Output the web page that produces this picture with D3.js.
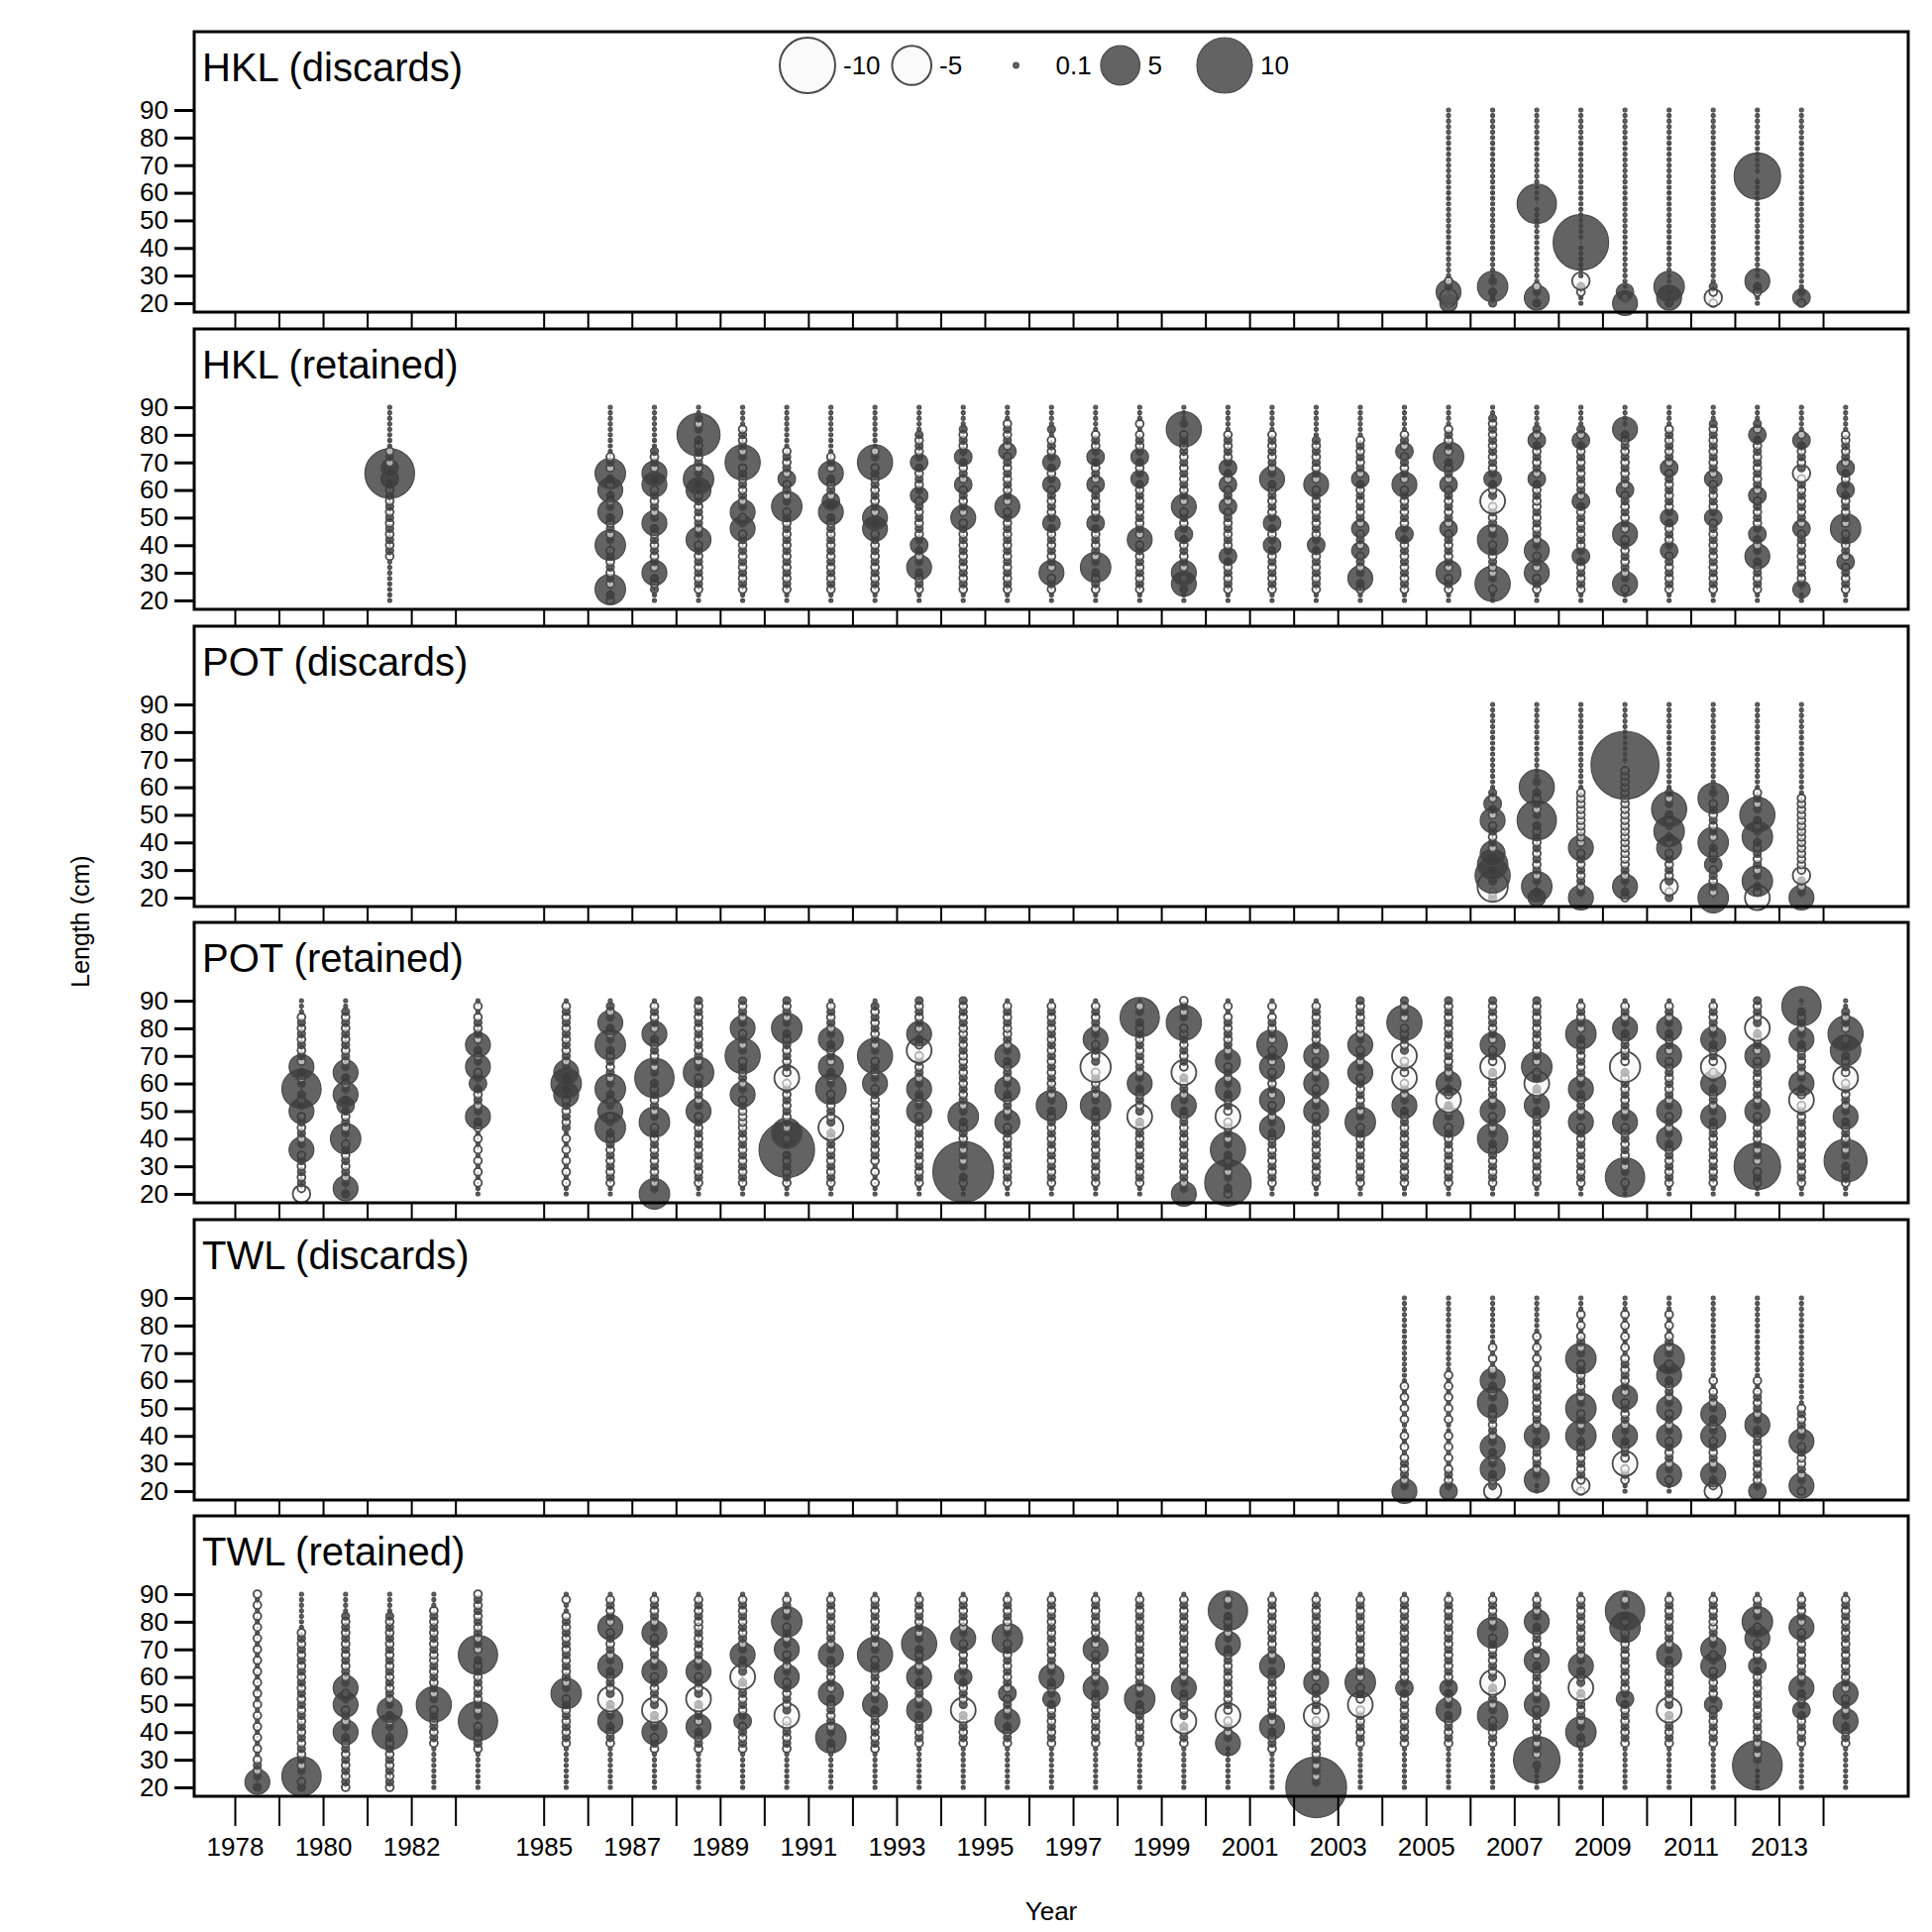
<!DOCTYPE html>
<html><head><meta charset="utf-8">
<script src="https://cdn.jsdelivr.net/npm/d3@7"></script>
<style>body{margin:0;background:#fff}svg{display:block;font-family:"Liberation Sans",Arial,sans-serif}</style>
</head><body><svg id="c" width="1950" height="1950"></svg>
<script>
// Residual codes per length bin (20,22,...,90 cm), grouped 6 bins per '|'.
// '.'=0.05 '+'=0.2 '-'=-0.2 '1'..'9'=+1..+9 'a'..'i'=-1..-9 'A'=10 'B'=12 'C'=15 ' '=none
const panelNames = ["HKL (discards)","HKL (retained)","POT (discards)","POT (retained)","TWL (discards)","TWL (retained)"];
const hklDiscYears = [2005,2006,2007,2008,2009,2010,2011,2012,2013];
const hklDiscRes = [
"1a2+-.|......|......|......|......|......",
"+.+3+.|......|......|......|......|......",
"+2+-..|......|......|5.....|......|......",
"..-+a.|.....A|......|......|......|......",
"2-1...|......|......|......|......|......",
"+2.3..|......|......|......|......|......",
"-a-+..|......|......|......|......|......",
"..-+2.|......|......|.....7|......|......",
"-1+...|......|......|......|......|......"];
const hklRetYears = [1981,1986,1987,1988,1989,1990,1991,1992,1993,1994,1995,1996,1997,1998,1999,2000,2001,2002,2003,2004,2005,2006,2007,2008,2009,2010,2011,2012,2013,2014];
const hklRetRes = [
"......|..-+-+|-+-+-+|-+-+18|1-+-..|......",
"-+3-+-|+-+-3+|-+-+2+|-+2-+3|-+-...|......",
"..+-+2|-+-+-+|-+2+-+|-+-2+2|-+-+..|......",
"..-+-+|-+-+-2|+-+-+-|+-2+3+|-+-+-+|6+-+..",
"..-+-+|-+-+-+|-2+-2+|-+-+-+|-4+-+-|+-....",
"..-+-+|-+-+-+|-+-+-3|+-+-1-|+-+-..|......",
"..-+-+|-+-+-+|-+-+2+|1-+-+2|-+-...|......",
"..-+-+|-+-+-+|-2+2-+|-+-+-+|-4+-..|......",
"..-+-+|2+-+1+|-+-+-+|-1+-+-|+1+-+-|+.....",
"..-+-+|-+-+-+|-+-2-+|-+-1-+|-+1+-+|-+....",
"..-+-+|-+-+-+|-+-+-2|-+-+-+|-+-1-+|-+-...",
"..-+-2|-+-+-+|-+1+-+|-+-1+-|+1+-+-|.+....",
"..-+-+|3+-+-+|-+1+-+|-+-1-+|-+1+-+|-.....",
"..-+-+|-+-+-2|-+-+-+|-+-+1+|-+1+-+|-.-...",
"..+2-2|-+-+-+|1+-+-2|-+-+-+|-+-+-+|-4+...",
"..-+-+|-+1+-+|-+-+-1|-+-1-+|1+-+-+|-.....",
"..-+-+|-+-+1+|-+1+-+|-+-+2+|-+-+-+|-.....",
"..-+-+|-+-+1+|-+-+-+|-+-2-+|-+-+-+|......",
"..-+2+|-+-1-+|-1-+-+|-+-+1-|+-+-+-|......",
"..-+-+|-+-+-+|1+-+-+|-+-2-+|-+-1-+|-.....",
"..-+-2|-+-+-+|-1-+-+|-+-1-+|-+3-+-|+-....",
"..-4+-|-+-+-3|+-+-+-|b+-+1+|-+-+-+|-+-+..",
"..-+-2|-+-2+-|+-+-+-|-+-+1-|+-+-+1|-+....",
"..-+-+|-+1+-+|-+-+-+|1-+-+-|+-+-+1|-+....",
"..-2+-|+-+-+-|2-+-+-|+-1-+-|+-+-+-|+2....",
"..-+-+|-+-1+-|+-+1+-|+-+-+-|1-+-+-|+-....",
"..-+-+|-+-+-+|-+-1+-|+-+-1-|+-+-+-|+-+...",
"..-+-+|-+2+-+|1+-+-+|-1-+-+|-+-+-+|1-+...",
"..1+-+|-+-+-+|-1-+-+|-+-+-a|+-+-+1|-.....",
"..-+-+|-1-+-+|-3-+-+|-+1+-+|1-+-+-|-....."];
const potDiscYears = [2006,2007,2008,2009,2010,2011,2012,2013];
const potDiscRes = [
"+-c+4+|3+2-+-|+-2-+1|-+....|......|......",
"1+3+-+|-+-+-+|-+5+-+|-+4+..|......|......",
"2+-+-+|-+-2--|------|--....|......|......",
"-+2+-+|------|------|------|C.....|......",
"+-a+-+|-+-2-+|3+-+4+|-+....|......|......",
"3-+-+-|1+-+3-|+-+-+-|3+....|......|......",
"b-+3+-|+-+-+3|+-+4+-|+-....|......|......",
"2+-+a-|------|------|-.....|......|......"];
const potRetYears = [1979,1980,1983,1985,1986,1987,1988,1989,1990,1991,1992,1993,1994,1995,1996,1997,1998,1999,2000,2001,2002,2003,2004,2005,2006,2007,2008,2009,2010,2011,2012,2013,2014];
const potRetRes = [
"a-+-+-|+-2+-+|-+-2+-|+5+-+2|-+-+-+|-+-...",
"+2+-+-|+-+-3+|-+-+1+|2+-+2+|-+-+-+|-+-+..",
"..-.-.|-.-.-.|-+2+-+|-+1+-2|+-+2-+|-+-.-.",
"..-.-.|-.-.-.|+-+-+-|2+3+2+|-+-+-+|-+-+-.",
"..-+-+|-+-+-+|3+-2+-|+3+-+-|+-+3+-|+2+-+.",
"3+-+-+|-+-+-+|-3+-+-|+-+5+-|+-+-+2|-+-+-.",
"..-+-+|-+-+-+|-+-2+-|+-+-3+|-+-+-+|-+-+-+",
"..-+-+|-+-+-+|----+-|2+-+-+|-4+-+-|2+-+-+",
"..-+-+|-+A+-3|-+-+-+|-+-b-+|-+-+-+|3+-+-+",
"..-+-+|-+-+-+|b+-+-+|-3+-+2|-+-+2+|-+-+-.",
"..-.-.|-+-+-+|-+-+--|+-2+-+|-4+-+-|+-+-+.",
"..-+-+|-+-+-+|-+-2+-|+2+-+-|+-b-+2|-+-+-+",
"..-+B+|-+-+-+|-+3+-+|-+-+-+|--+-+-|-+-+-+",
"..-+-+|-+-+-+|-2+-+-|+2+-+-|+2+-+-|-+-+-.",
"..-+-+|-+-+-+|-+-+3+|-+-+-+|-+-+-+|-+-+-.",
"..-+-+|-+-+-+|-+-+3+|-+-+-c|+-+-2+|-+-+-.",
"..-+-+|-+-+-+|-+b+-+|-+2+-+|-+-+-+|-+5+-.",
"2+-+-+|-+-+-+|-+-+2+|-+-+b-|+-+-+-|-4+-+-",
"-+7+-+|-+4+-+|--b-+-|+2+-+-|2+-+-+|-+-.-.",
"..-+-+|-+-+-+|2+-+-2|-+-+-2|-+-3-+|-+-.-.",
"..-+-+|-+-+-+|-+-2+-|+-2+-+|-2-+-+|-+-+-.",
"..-+-+|-+-+-+|-3+-+-|+-+-2+|-+-2+-|-+-+-+",
"..-+-+|-+-+-+|-+-+2+|-+-b-+|-b+-+-|-4-+-+",
"..-+-+|-+-+-+|-3+-+b|-+2+-+|-+-+-+|-+-+-+",
"..-+-+|-+-+3+|-+-2+-|+-+-+b|-+-2-+|-+-+-+",
"..-+-+|-+-+-+|-+-+2+|-+b+-3|-+-+-+|-+-+-+",
"..-+-+|-+-+-+|-2+-+-|+2+-+-|+-+-+3|-+-+-.",
"..-5+-|+-+-+-|-2+-+-|+-+-+c|-+-+-+|2+-+-.",
"..-+-+|-+-+2+|-+-2+-|+-+-+-|-2-+-+|2+-+-.",
"..-+-+|-+-+-+|-+2+-+|-+2+-b|-+-+2+|-+-+-.",
"..-+-7|-+-+-+|-+-2+-|+-+-+-|-2-+-+|b+-+-+",
"..-+-+|-+-+-+|-+-+-b|-+2+-+|-+-+2+|-+-+5.",
"..-+-+|6+-+-+|-+2+-+|-+-b-+|-+3+-4|-+-+.."];
const twlDiscYears = [2004,2005,2006,2007,2008,2009,2010,2011,2012,2013];
const twlDiscRes = [
"2+-+-+|-.-.-.|.-.-.-|.-....|......|......",
"1+-+-.|-.-.-.|.-.-.-|.-.-..|......|......",
"a+-+2+|-+2+-+|-+-+3+|-+2+-.|-.-...|......",
"..2+-+|-+-+2+|-+-+-+|-+-+-.|-.-.-.|......",
"-a-+-+|-+-+3+|-+-3+-|+-+-+-|3+-+-.|-.-...",
"..-+-b|-+-+2+|-+-+-2|-+-+-+|-.-.-.|-.-...",
"..-2+-|+-+-2+|-+-2+-|+-+2+-|3+-+-.|-.-...",
"a-+2+-|+-+-2+|-+2+-+|-.-...|......|......",
"1+-+-+|-+-+-+|2+-+-+|-.-...|......|......",
"-2+-+-|-+-2+-|+-+-..|......|......|......"];
const twlRetYears = [1978,1979,1980,1981,1982,1983,1985,1986,1987,1988,1989,1990,1991,1992,1993,1994,1995,1996,1997,1998,1999,2000,2001,2002,2003,2004,2005,2006,2007,2008,2009,2010,2011,2012,2013,2014];
const twlRetRes = [
"+2+-+-|.-.-.-|.-.-.-|.-.-.-|.-.-.-|.-.-.-",
"+-5+-+|-+-+-+|-+-+-+|-+-+-+|-+-+-.|......",
"-+-+-+|-+-+2+|-+-2+-|2+-+-+|-+-+-+|-+....",
"-+-+-+|-+-+4+|-+2+-+|-+-+-+|-+-+-+|-+....",
"......|..-+-+|-+-4+-|+-+-+-|-+-+-+|-+-...",
"......|.-+-+-|5+-+-+|-+-+-+|5-+-+-|+-+-+-",
"......|..-+-+|-+-+-3|+-+-+-|+-+-+-|+-..-.",
"......|..-+-+|2+-+b+|-+-+2+|-+-+-2|-+-+-.",
"......|.-+-2+|-+b+-+|-+-2+-|+-+-2+|-+-+-.",
"......|.-+-+2|-+-+b+|-+-2+-|+-+-+-|-+-+-.",
"......|.-+-+-|1+-+-+|-+b+-+|2+-+-+|-+-+-.",
"......|.-+-+-|-b+-+-|+-2+-+|-2+-+-|3+-+-.",
"......|.-+3+-|+-+-+2|-+-+-+|2+-+-+|-+-+-.",
"......|.-+-+-|+-+2+-|+-+-+-|4+-+-+|-+-+-.",
"......|..-+-+|-+2+-+|-+2+-+|-+4+-+|-+-+-.",
"......|..-+-+|-+b+-+|-+1+-+|-+-2+-|-+-+-.",
"......|..-+-+|2+-+-1|-+-+-+|-+-3+-|-+-+-.",
"......|..-+-+|-+-+1+|-+2+-+|-+-+-+|-+-+-.",
"......|..-+-+|-+-+-+|2+-+-+|-2-+-+|-+-+-.",
"......|..-+-+|-+-+3+|-+-+-+|-+-+-+|-+-+-.",
"......|..-+-+|b+-+-+|2+-+-+|-+-+-+|-+-+-.",
"......|..2+-+|-b-+-+|-+-+-+|-+2+-+|-+5+-.",
"......|.-+-+2|-+-+-+|-+-+2+|-+-+-+|-+-+-.",
"B+-+-+|-+-+-+|-b-+-+|-2-+-+|-+-+-+|-+-+-.",
"......|..-+-+|-+-b-+|-3-+-+|-+-+-+|-+-+-.",
"......|..-+-+|-+-+-+|1+-+-+|-+-+-+|-+-+-.",
"......|..-+-+|-+2+-+|1+-+-+|-+-+-+|-+-+-.",
"......|..-+-+|-3+-+-|+b+-+-|+-+-3+|-+-+-.",
"....+7|-+-+-+|-+-2+-|+-+-+2|-+-+-+|2+-+-.",
"......|..-+3+|-+-+-+|b+-+2+|-+-+-+|-+-+-.",
"......|..-+-+|-+-+1+|-+-+-+|-+-+-3|-+5+-.",
"......|..-+-+|-+b+-+|-+-+-+|2+-+-+|-+-+-.",
"......|..-+-+|-+-1+-|+-+-2+|-2+-+-|-+-+-.",
"....8+|-+-+-+|-+-+-+|-+-+1+|-+-2+-|3+-+-.",
"......|..-+-+|-+1+-+|2+-+-+|-+-+-2|-+-+-.",
"......|..-+-+|2+-+-2|-+-+-+|-+-+-+|-+-+-."];
const yTicks = [20,30,40,50,60,70,80,90];
const xTickYears = [1978,1979,1980,1981,1982,1983,1985,1986,1987,1988,1989,1990,1991,1992,1993,1994,1995,1996,1997,1998,1999,2000,2001,2002,2003,2004,2005,2006,2007,2008,2009,2010,2011,2012,2013,2014];
const xLabelYears = [1978,1980,1982,1985,1987,1989,1991,1993,1995,1997,1999,2001,2003,2005,2007,2009,2011,2013];
const legendValues = [-10,-5,0.1,5,10];

const codeMap = {'.':0.05,'+':0.2,'-':-0.2,'A':10,'B':12,'C':15};
function decode(ch){ if(ch in codeMap) return codeMap[ch];
  if(ch>='1'&&ch<='9') return +ch; if(ch>='a'&&ch<='i') return -(ch.charCodeAt(0)-96); return null; }
function parseCol(year,s){ const out=[]; let i=0;
  for(const ch of s){ if(ch==='|') continue; const v=decode(ch); if(v!==null) out.push({year, len:20+2*i, v}); i++; }
  return out; }
function build(years,res){ return years.flatMap((y,k)=>parseCol(y,res[k])); }
const panels = [
  {name:panelNames[0],years:hklDiscYears,data:build(hklDiscYears,hklDiscRes)},
  {name:panelNames[1],years:hklRetYears,data:build(hklRetYears,hklRetRes)},
  {name:panelNames[2],years:potDiscYears,data:build(potDiscYears,potDiscRes)},
  {name:panelNames[3],years:potRetYears,data:build(potRetYears,potRetRes)},
  {name:panelNames[4],years:twlDiscYears,data:build(twlDiscYears,twlDiscRes)},
  {name:panelNames[5],years:twlRetYears,data:build(twlRetYears,twlRetRes)}];

const svg = d3.select("#c");
const left=196, right=1926, pH=283, tops=[32,332,632,931,1231,1530];
const x = d3.scaleLinear().domain([1978,2013]).range([237.5,1796]);
const r = d3.scaleSqrt().domain([0,10]).range([0,28]);
const posFill="#3c3c3c", negFill="#f6f6f6", strokeC="#4a4a4a";

panels.forEach((p,pi)=>{
  const top=tops[pi];
  const y = d3.scaleLinear().domain([20,90]).range([top+274, top+79]);
  const g = svg.append("g");
  p.years.forEach(yr=>{
    const lens=p.data.filter(d=>d.year===yr).map(d=>d.len);
    g.append("line").attr("x1",x(yr+0.5)).attr("x2",x(yr+0.5))
     .attr("y1",y(d3.min(lens))).attr("y2",y(d3.max(lens)))
     .attr("stroke","#555").attr("stroke-width",1.2).attr("stroke-dasharray","2,3");
  });
  g.selectAll("circle").data(p.data).join("circle")
   .attr("cx",d=>x(d.year+0.5)).attr("cy",d=>y(d.len)).attr("r",d=>Math.max(1.5,r(Math.abs(d.v))))
   .attr("fill",d=>d.v>0?posFill:negFill).attr("fill-opacity",d=>d.v>0?0.8:0.6)
   .attr("stroke",strokeC).attr("stroke-width",d=>d.v>0?1.2:1.8);
  g.append("rect").attr("x",left).attr("y",top).attr("width",right-left).attr("height",pH)
   .attr("fill","none").attr("stroke","#000").attr("stroke-width",3);
  g.append("text").attr("x",204).attr("y",top+50).attr("font-size",40).text(p.name);
  const ya = svg.append("g").attr("transform",`translate(${left},0)`)
    .call(d3.axisLeft(y).tickValues(yTicks).tickSize(20).tickPadding(6).tickFormat(d3.format("d")));
  ya.select(".domain").remove();
  ya.selectAll("line").attr("stroke","#000").attr("stroke-width",3);
  ya.selectAll("text").attr("font-size",26).attr("font-family","Liberation Sans, Arial").attr("fill","#000");
  const last = pi===5;
  svg.append("g").selectAll("line").data(xTickYears).join("line")
    .attr("x1",d=>x(d)).attr("x2",d=>x(d)).attr("y1",top+pH).attr("y2",top+pH+(last?30:17))
    .attr("stroke","#000").attr("stroke-width",2);
});
svg.append("g").selectAll("text").data(xLabelYears).join("text")
  .attr("x",d=>x(d)).attr("y",1873).attr("text-anchor","middle").attr("font-size",26).text(d=>d);
svg.append("text").attr("x",1061).attr("y",1938).attr("text-anchor","middle").attr("font-size",26).text("Year");
svg.append("text").attr("transform","translate(90,930) rotate(-90)").attr("text-anchor","middle").attr("font-size",25).text("Length (cm)");
const lx = d3.scalePoint().domain(legendValues).range([815,1236]);
const lg = svg.append("g");
legendValues.forEach(v=>{
  const rr = Math.max(2.5,r(Math.abs(v)));
  lg.append("circle").attr("cx",lx(v)).attr("cy",66).attr("r",rr)
    .attr("fill",v>0?posFill:negFill).attr("fill-opacity",v>0?0.8:0.6).attr("stroke",strokeC).attr("stroke-width",v>0?1.2:2);
  lg.append("text").attr("x",lx(v)+(v===0.1?40:rr+8)).attr("y",75)
    .attr("font-size",26).text(v);
});
</script></body></html>
